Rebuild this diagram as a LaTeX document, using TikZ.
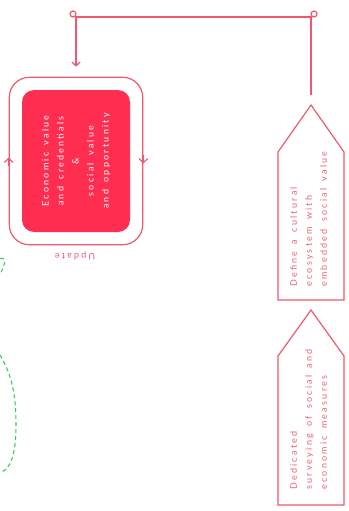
\documentclass[tikz,border=0pt]{standalone}
\usepackage{fontspec}
\setmainfont{Lato}
\newfontfamily\spacedfont{Lato}[LetterSpace=25,WordSpace=1.6]
\usetikzlibrary{fit,calc,arrows.meta}
\definecolor{loopred}{RGB}{240,88,112}
\definecolor{boxred}{RGB}{255,46,80}
\definecolor{labelred}{RGB}{232,96,114}
\definecolor{tracegreen}{RGB}{60,204,86}

\begin{document}
\begin{tikzpicture}[x=1pt,y=-1pt,>={Straight Barb[length=4pt,width=8.5pt]},
	flow/.style={draw=loopred, line width=1.2pt},
	valuebox/.style={fill=boxred, rounded corners=12pt, rotate=90, minimum width=142pt, minimum height=108pt, text=white, align=center, font=\spacedfont\fontsize{9}{15}\selectfont},
	stepbox/.style={text=labelred, rotate=90, anchor=north west, inner sep=0pt, align=left, font=\spacedfont\fontsize{9}{15}\selectfont},
	greentrace/.style={draw=tracegreen, line width=1.1pt, dash pattern=on 4pt off 3pt}]
	\useasboundingbox (0,0) rectangle (348,511);

	% value loop
	\node [valuebox] (value) at (76,161) {Economic value\\and credentials\\\&\\social value\\and opportunity};
	\node [flow, rounded corners=20pt, fit=(value), inner sep=12.5pt] (loop) {};
	\draw [flow, ->] ([yshift=-5pt]loop.west) -- ([yshift=3.5pt]loop.west);
	\draw [flow, ->] ([yshift=6pt]loop.east) -- ([yshift=-2.5pt]loop.east);
	\node [text=loopred, rotate=180, font=\spacedfont\fontsize{9}{10}\selectfont] (update) at (75,256) {Update};

	% steps on the right
	\coordinate (definetip) at (311,105);
	\draw [flow] (278,300) -- (278,152) -- (definetip) -- (344,152) -- (344,300) -- cycle;
	\node [stepbox] (define) at (290,287) {Define a cultural\\ecosystem with\\embedded social value};

	\coordinate (surveytip) at (311,310);
	\draw [flow] (278,505) -- (278,356) -- (surveytip) -- (344,356) -- (344,505) -- cycle;
	\node [stepbox] (survey) at (290,490) {Dedicated\\surveying of social and\\economic measures};

	% feedback line
	\coordinate (bendR) at (311,17);
	\coordinate (bendL) at (76,17);
	\draw [flow] (73,14) circle [radius=3];
	\draw [flow] (314,14) circle [radius=3];
	\draw [flow, ->] ([yshift=10pt]definetip) -- (bendR) -- (bendL) -- ([yshift=10pt]loop.north);

	% green trace
	\draw [greentrace] (0,258.5) -- (3,258.5) .. controls (6,259) and (5,264) .. (0,275);
	\draw [greentrace] (0,355) .. controls (12,375) and (16,395) .. (16,425) .. controls (16,455) and (10,470) .. (1,472);
\end{tikzpicture}
\end{document}
